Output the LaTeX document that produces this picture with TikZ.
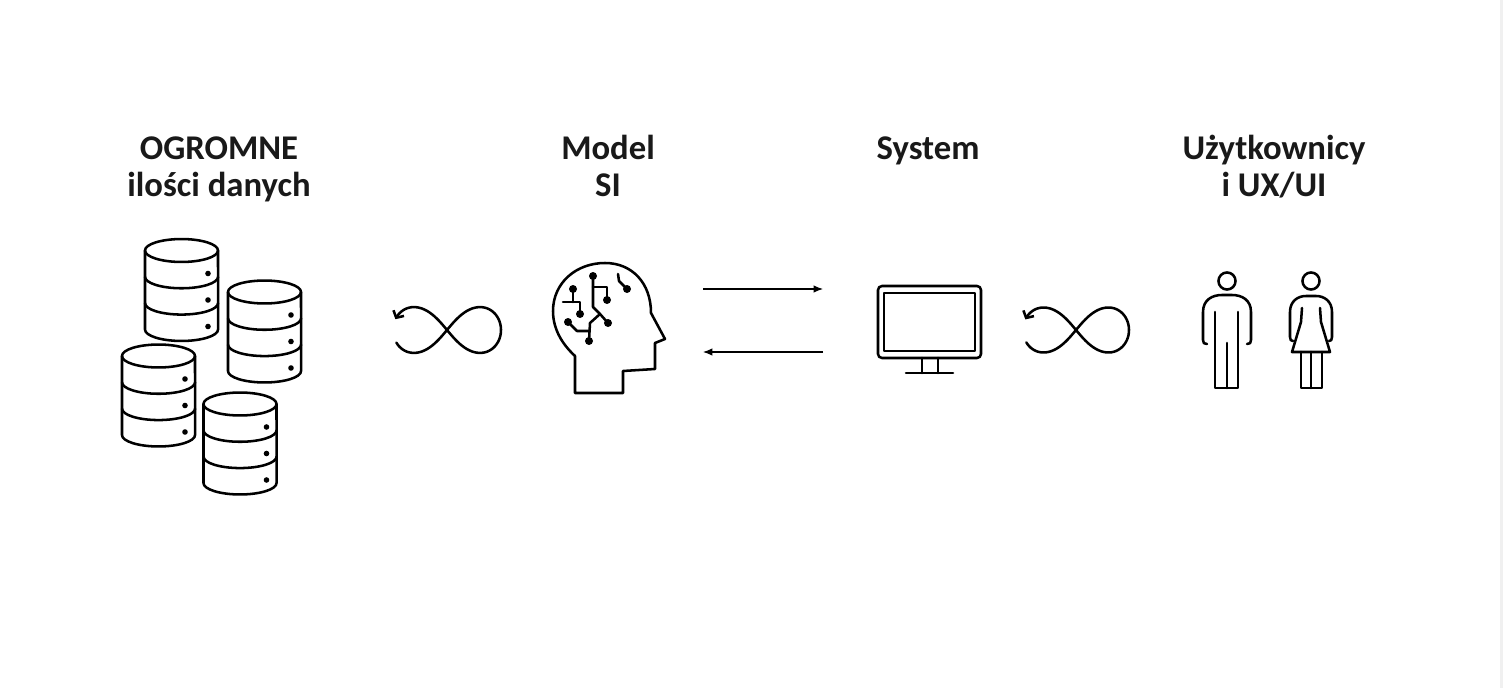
\documentclass[tikz,border=0pt]{standalone}
\usepackage{fontspec}
\setmainfont{Carlito}
\usetikzlibrary{arrows.meta}
\tikzset{
  iconline/.style={line width=1.9pt, line cap=round, line join=round, black},
  thinarrow/.style={line width=0.8pt, black, -{Latex[length=7pt,width=5.5pt]}},
  lbl/.style={font=\fontsize{26}{27.75}\selectfont\bfseries, text=black!90, align=center, anchor=base, inner sep=0pt},
  dbcyl/.pic={
    \draw[iconline, fill=white] (-36.5,0) -- (-36.5,79)
      arc[start angle=180, end angle=360, x radius=27.4pt, y radius=8.6pt] -- (36.5,0);
    \draw[iconline] (0,0) ellipse[x radius=27.4pt, y radius=8.6pt];
    \draw[iconline] (-36.5,26.3) arc[start angle=180, end angle=360, x radius=27.4pt, y radius=8.6pt];
    \draw[iconline] (-36.5,52.6) arc[start angle=180, end angle=360, x radius=27.4pt, y radius=8.6pt];
    \fill (26.5,23) circle[radius=2.1pt];
    \fill (26.5,49.5) circle[radius=2.1pt];
    \fill (26.5,76) circle[radius=2.1pt];
  }
}
\begin{document}
\begin{tikzpicture}[x=0.75pt,y=-0.75pt]
\useasboundingbox (0,0) rectangle (1503,688);
\fill[white] (0,0) rectangle (1503,688);
\fill[black!6] (1500,0) rectangle (1503,688);

% labels
\node[lbl] (lab1) at (219,196) {OGROMNE\\ilości danych};
\node[lbl] (lab2) at (608,196) {Model\\SI};
\node[lbl] (lab3) at (928,160) {System};
\node[lbl] (lab4) at (1274,196) {Użytkownicy\\i UX/UI};

% databases
\pic at (181.5,250.5) {dbcyl};
\pic at (264.5,292) {dbcyl};
\pic at (158.5,356) {dbcyl};
\pic at (240,404) {dbcyl};

% infinity loops
\draw[iconline, -{Straight Barb[length=4pt,width=9pt,line width=1.9pt]}]
  plot[domain=192:530, samples=140]
  ({447+54*cos(\x)/(1+sin(\x)*sin(\x))}, {330+1.2*54*sin(\x)*cos(\x)/(1+sin(\x)*sin(\x))});
\draw[iconline, -{Straight Barb[length=4pt,width=9pt,line width=1.9pt]}]
  plot[domain=192:530, samples=140]
  ({1076+53*cos(\x)/(1+sin(\x)*sin(\x))}, {330+1.2*53*sin(\x)*cos(\x)/(1+sin(\x)*sin(\x))});

% head
\draw[iconline] (575,393) -- (575,356)
  .. controls (561,343) and (553,328) .. (553,311)
  .. controls (553,283) and (576,263) .. (605,263)
  .. controls (632,263) and (651,283) .. (651,313)
  -- (665,339) -- (655,343) -- (655,369) -- (623,371) -- (623,393) -- cycle;
\draw[iconline] (593,276) -- (593,307) -- (600,314) -- (608,323);
\draw[iconline] (593,287) -- (607,287) -- (607,300);
\draw[iconline] (600,314) -- (590,323) -- (589,341);
\draw[iconline] (568,322) -- (577,331) -- (589,331);
\draw[iconline] (573,289) -- (573,302);
\draw[iconline] (563,302) -- (580,302) -- (580,314);
\draw[iconline] (618,274) -- (619,281) -- (627,289);
\foreach \p in {(593,276),(573,289),(607,300),(580,314),(568,322),(608,323),(589,341),(627,289)}
  \fill \p circle[radius=3pt];

% arrows between model and system
\coordinate (a1s) at (703,289);
\coordinate (a1e) at (823,289);
\coordinate (a2s) at (823,352);
\coordinate (a2e) at (703,352);
\draw[thinarrow] (a1s) -- (a1e);
\draw[thinarrow] (a2s) -- (a2e);

% monitor
\draw[iconline, rounded corners=3pt] (878,286) rectangle (981,358);
\draw[iconline] (884,293) rectangle (975,351);
\draw[iconline] (922,358) -- (922,373);
\draw[iconline] (938,358) -- (938,373);
\draw[iconline] (906,373) -- (953,373);

% man
\draw[iconline] (1227,281) circle[radius=6.4pt];
\draw[iconline] (1207,344) .. controls (1204,344) and (1203,343) .. (1203,340) -- (1203,312)
  .. controls (1203,300) and (1212,295) .. (1222,295) -- (1232,295)
  .. controls (1242,295) and (1251,300) .. (1251,312) -- (1251,340)
  .. controls (1251,343) and (1250,344) .. (1247,344);
\draw[iconline] (1215,312) -- (1215,388) -- (1238,388) -- (1238,312);
\draw[iconline] (1227,343) -- (1227,388);

% woman
\draw[iconline] (1311,281) circle[radius=6.4pt];
\draw[iconline] (1293,341) .. controls (1291,341) and (1290,340) .. (1290,337) -- (1290,312)
  .. controls (1290,301) and (1298,296) .. (1306,296) -- (1316,296)
  .. controls (1324,296) and (1332,301) .. (1332,312) -- (1332,337)
  .. controls (1332,340) and (1331,341) .. (1329,341);
\draw[iconline] (1302,308) -- (1301,322) -- (1292,352) -- (1330,352) -- (1321,322) -- (1320,308);
\draw[iconline] (1301,352) -- (1301,388) -- (1322,388) -- (1322,352);
\draw[iconline] (1311,352) -- (1311,388);
\end{tikzpicture}
\end{document}
